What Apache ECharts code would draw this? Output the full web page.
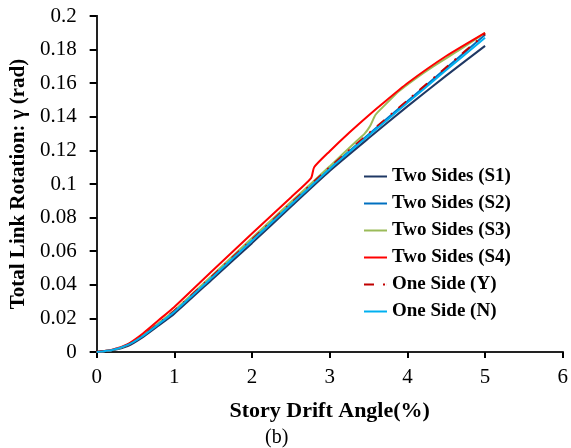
<!DOCTYPE html>
<html>
<head>
<meta charset="utf-8">
<script src="https://cdn.jsdelivr.net/npm/echarts@6/dist/echarts.min.js"></script>
<style>
  html, body { margin: 0; padding: 0; background: #fff; }
  #chart { width: 571px; height: 448px; }
</style>
</head>
<body>
<div id="chart"></div>
<script>
// Story drift angle (%) vs total link rotation (rad) for each link configuration
const seriesNames = ['Two Sides (S1)', 'Two Sides (S2)', 'Two Sides (S3)', 'Two Sides (S4)', 'One Side (Y)', 'One Side (N)'];
const seriesColors = ['#1F3864', '#0070C0', '#9BBB59', '#FF0000', '#C00000', '#00B0F0'];

const twoSidesS1 = [[0,0],[0.2,0.001],[0.4,0.0035],[0.6,0.009],[0.8,0.0158],[1.0,0.0228],[1.5,0.0438],[2,0.0648],[2.5,0.0865],[3,0.1078],[3.5,0.1272],[4,0.1462],[4.5,0.1645],[5,0.1822]];
const twoSidesS2 = [[0,0],[0.2,0.0012],[0.4,0.0042],[0.6,0.0098],[0.8,0.0168],[1.0,0.0240],[1.5,0.0452],[2,0.0665],[2.5,0.0880],[3,0.1093],[3.5,0.1295],[4,0.1492],[4.5,0.1690],[5,0.1888]];
const twoSidesS3 = [[0,0],[0.2,0.0012],[0.4,0.0043],[0.6,0.0102],[0.8,0.0173],[1.0,0.0247],[1.5,0.0462],[2,0.0678],[2.5,0.0893],[3,0.1105],[3.35,0.1258],[3.45,0.1300],[3.52,0.1345],[3.59,0.1412],[3.7,0.1465],[3.89,0.1552],[4.1,0.1626],[4.31,0.1693],[4.65,0.1792],[5,0.1900]];
const twoSidesS4 = [[0,0],[0.2,0.0013],[0.4,0.0047],[0.6,0.0112],[0.8,0.0190],[1.0,0.0268],[1.5,0.0488],[2,0.0705],[2.5,0.0920],[2.76,0.1035],[2.8,0.1100],[3,0.1195],[3.25,0.1305],[3.5,0.1408],[3.67,0.1475],[4,0.1600],[4.5,0.1762],[5,0.1900]];
const oneSideY = [[0,0],[0.2,0.0012],[0.4,0.0043],[0.6,0.0100],[0.8,0.0170],[1.0,0.0245],[1.5,0.0457],[2,0.0670],[2.5,0.0885],[3,0.1100],[3.5,0.1300],[4,0.1497],[4.5,0.1695],[5,0.1893]];
const oneSideN = [[0,0],[0.2,0.0012],[0.4,0.0042],[0.6,0.0097],[0.8,0.0167],[1.0,0.0240],[1.5,0.0450],[2,0.0662],[2.5,0.0877],[3,0.1090],[3.5,0.1288],[4,0.1483],[4.5,0.1678],[5,0.1870]];

const seriesData = [twoSidesS1, twoSidesS2, twoSidesS3, twoSidesS4, oneSideY, oneSideN];

const xTicks = { min: 0, max: 6, interval: 1 };
const yTicks = { min: 0, max: 0.2, interval: 0.02 };

const serif = '"Liberation Serif", "Times New Roman", serif';

// legend keys: plain bar, and a dash + dot for the dash-dot series
const solidKey = 'path://M0,0H23V2H0Z';
const dashDotKey = 'path://M0,0H10V2H0Z M19,0H21V2H19Z M22.9,0H23V2H22.9Z';

const chart = echarts.init(document.getElementById('chart'), null, { renderer: 'canvas' });

const series = seriesData.map((data, i) => ({
  name: seriesNames[i],
  type: 'line',
  data: data,
  symbol: 'none',
  smooth: 0.2,
  color: seriesColors[i],
  lineStyle: {
    width: 2,
    color: seriesColors[i],
    type: i === 4 ? [10, 8, 2, 8] : 'solid'
  }
}));

chart.setOption({
  animation: false,
  backgroundColor: '#fff',
  grid: { left: 95, right: 5, top: 16, bottom: 96, containLabel: false },
  legend: {
    orient: 'vertical',
    left: 359,
    top: 162,
    itemWidth: 23,
    itemHeight: 2,
    itemGap: 8,
    data: seriesNames.map((n, i) => ({ name: n, icon: i === 4 ? dashDotKey : solidKey })),
    textStyle: { fontFamily: serif, fontWeight: 'bold', fontSize: 19, color: '#000' }
  },
  xAxis: [{
    type: 'value',
    min: xTicks.min, max: xTicks.max, interval: xTicks.interval,
    name: 'Story Drift Angle(%)',
    nameLocation: 'middle',
    nameGap: 48,
    nameTextStyle: { fontFamily: serif, fontWeight: 'bold', fontSize: 22, color: '#000' },
    axisLine: { show: true, lineStyle: { color: '#000', width: 2 } },
    axisTick: { show: true, inside: false, length: 6, lineStyle: { color: '#000', width: 2 } },
    axisLabel: { fontFamily: serif, fontSize: 21, color: '#000', margin: 15 },
    splitLine: { show: false }
  }, {
    type: 'value', position: 'top',
    min: xTicks.min, max: xTicks.max,
    axisLine: { show: true, lineStyle: { color: '#222', width: 2 } },
    axisTick: { show: false }, axisLabel: { show: false }, splitLine: { show: false }
  }],
  yAxis: [{
    type: 'value',
    min: yTicks.min, max: yTicks.max, interval: yTicks.interval,
    name: 'Total Link Rotation: γ (rad)',
    nameLocation: 'middle',
    nameGap: 67,
    nameTextStyle: { fontFamily: serif, fontWeight: 'bold', fontSize: 21, color: '#000' },
    axisLine: { show: true, lineStyle: { color: '#000', width: 2 } },
    axisTick: { show: true, inside: false, length: 7, lineStyle: { color: '#000', width: 2 } },
    axisLabel: { fontFamily: serif, fontSize: 21, color: '#000', margin: 20,
      formatter: v => String(Math.round(v * 100) / 100) },
    splitLine: { show: false }
  }, {
    type: 'value', position: 'right',
    min: yTicks.min, max: yTicks.max,
    axisLine: { show: true, lineStyle: { color: '#222', width: 2 } },
    axisTick: { show: false }, axisLabel: { show: false }, splitLine: { show: false }
  }],
  graphic: [{
    type: 'text',
    left: 265,
    top: 428,
    style: { text: '(b)', font: '20px ' + serif, fill: '#000' }
  }],
  series: series
});
</script>
</body>
</html>
